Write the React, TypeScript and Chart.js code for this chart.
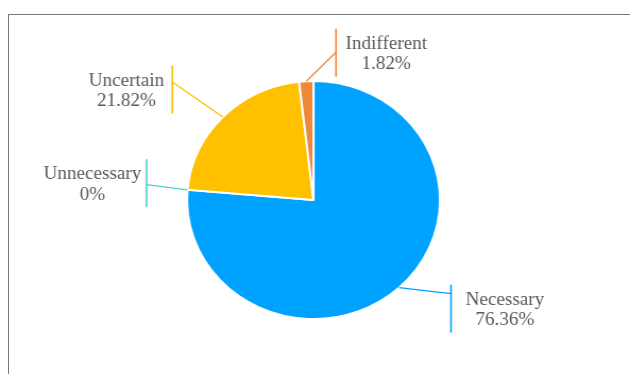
import React, { useEffect, useRef } from "react";
import { Chart, registerables } from "chart.js";

Chart.register(...registerables);

const categories = ["Necessary", "Unnecessary", "Uncertain", "Indifferent"];
const percentValues = [76.36, 0, 21.82, 1.82];
const percentLabels = ["76.36%", "0%", "21.82%", "1.82%"];
const sliceColors = ["#00A2FF", "#4FCFCF", "#FFC000", "#F0883C"];

// label layout (page px): leader end offset from arc anchor, bar centre offset from leader end, text centre offset from bar
const leaderDx = [52, -41, -50.5, 29.7];
const leaderDy = [6, -5.3, -35, -29];
const barDy = [15, -1.2, 7.5, 0.5];
const textDx = [54, -54.2, -46, 50.3];

const LABEL_FONT = '18px "Times New Roman", "Liberation Serif", "DejaVu Serif", serif';

const CW = 593;
const CH = 374;
const SX = 630 / CW;

export default function App() {
  const ref = useRef<HTMLCanvasElement | null>(null);

  useEffect(() => {
    document.body.style.margin = "0";
    document.body.style.overflow = "hidden";
    const canvas = ref.current;
    if (!canvas) return;

    const labelPlugin = {
      id: "calloutLabels",
      afterDatasetsDraw(chart: any) {
        const ctx = chart.ctx;
        const meta = chart.getDatasetMeta(0);
        meta.data.forEach((arc: any, i: number) => {
          const p = arc.getProps(["x", "y", "startAngle", "endAngle", "outerRadius"], true);
          const mid = (p.startAngle + p.endAngle) / 2;
          const ax = p.x + Math.cos(mid) * p.outerRadius;
          const ay = p.y + Math.sin(mid) * p.outerRadius;
          const lx = ax + leaderDx[i] / SX;
          const ly = ay + leaderDy[i];
          const bc = ly + barDy[i];
          ctx.save();
          ctx.strokeStyle = sliceColors[i];
          ctx.lineWidth = 1.3;
          ctx.beginPath();
          ctx.moveTo(ax, ay);
          ctx.lineTo(lx, ly);
          ctx.stroke();
          ctx.lineWidth = 1.6;
          ctx.beginPath();
          ctx.moveTo(lx, bc - 24);
          ctx.lineTo(lx, bc + 24);
          ctx.stroke();
          ctx.fillStyle = "#595959";
          ctx.font = LABEL_FONT;
          ctx.textAlign = "center";
          ctx.textBaseline = "middle";
          const tx = lx + textDx[i] / SX;
          ctx.fillText(categories[i], tx, bc - 8.75);
          ctx.fillText(percentLabels[i], tx, bc + 11.75);
          ctx.restore();
        });
      },
    };

    const chart = new Chart(canvas, {
      type: "pie",
      data: {
        labels: categories,
        datasets: [
          {
            data: percentValues,
            backgroundColor: sliceColors,
            borderColor: "#ffffff",
            borderWidth: 2,
            radius: 119,
          } as any,
        ],
      },
      options: {
        animation: false,
        responsive: false,
        devicePixelRatio: 1,
        layout: { padding: { top: 60, bottom: 34, left: 100, right: CW - (2 * (313.5 / SX) - 100) } },
        plugins: {
          legend: { display: false },
          tooltip: { enabled: false },
        },
      },
      plugins: [labelPlugin],
    });
    let alive = true;
    if ((document as any).fonts && (document as any).fonts.load) {
      (document as any).fonts
        .load(LABEL_FONT, "Necessary 0123456789%")
        .then(() => {
          if (alive) chart.draw();
        })
        .catch(() => {});
    }
    return () => {
      alive = false;
      chart.destroy();
    };
  }, []);

  return (
    <div style={{ position: "relative", width: 630, height: 374, overflow: "hidden", background: "#fff" }}>
      <div
        style={{
          position: "absolute",
          left: 7.5,
          top: 13.5,
          width: 700,
          height: 500,
          border: "1.6px solid #767676",
          boxSizing: "border-box",
        }}
      />
      <canvas
        ref={ref}
        width={CW}
        height={CH}
        style={{
          position: "absolute",
          left: 0,
          top: 0,
          width: CW,
          height: CH,
          transform: `scaleX(${SX})`,
          transformOrigin: "0 0",
        }}
      />
      <span style={{ position: "absolute", left: -9999, top: 0, font: LABEL_FONT }}>Necessary 0%</span>
    </div>
  );
}
